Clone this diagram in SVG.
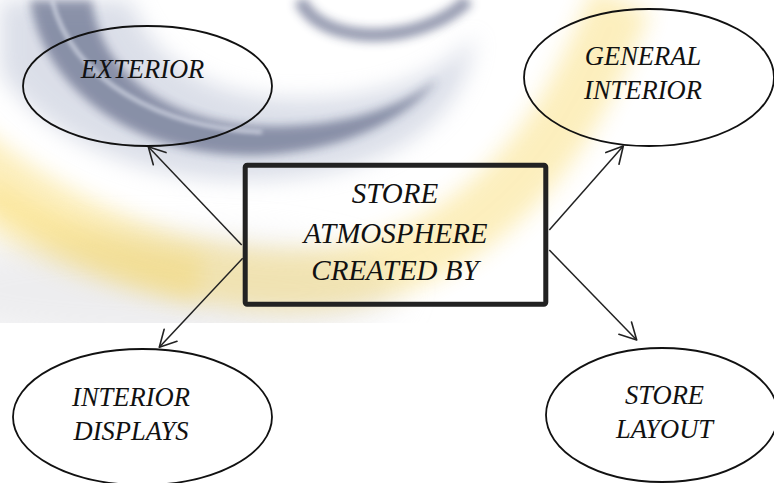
<svg xmlns="http://www.w3.org/2000/svg" width="774" height="483" viewBox="0 0 774 483">
  <defs>
    <style>
      .lbl { font-family: "Liberation Serif", "Times New Roman", serif; font-style: italic; fill: #111; }
      .small { font-size: 26.5px; }
      .big { font-size: 29px; }
      .node { fill: none; stroke: #111; stroke-width: 1.8; }
      .conn { fill: none; stroke: #222; stroke-width: 1.5; marker-end: url(#arrow); }
    </style>
    <marker id="arrow" markerUnits="userSpaceOnUse" markerWidth="24" markerHeight="24" viewBox="-20 -12 24 24" refX="0" refY="0" orient="auto">
      <path d="M-16.5,-8.8 L0,0 L-16.5,8.8" fill="none" stroke="#222" stroke-width="1.6" stroke-linecap="round" stroke-linejoin="round"/>
    </marker>
    <filter id="blur20" x="-50%" y="-50%" width="200%" height="200%"><feGaussianBlur stdDeviation="18"/></filter>
    <filter id="blur12" x="-50%" y="-50%" width="200%" height="200%"><feGaussianBlur stdDeviation="11"/></filter>
    <filter id="blur5" x="-50%" y="-50%" width="200%" height="200%"><feGaussianBlur stdDeviation="5"/></filter>
    <filter id="blur2" x="-50%" y="-50%" width="200%" height="200%"><feGaussianBlur stdDeviation="2"/></filter>
    <filter id="soft" x="-10%" y="-10%" width="120%" height="120%"><feGaussianBlur stdDeviation="0.7"/></filter>
    <clipPath id="wmclip"><rect x="0" y="0" width="774" height="323"/></clipPath>
  </defs>

  <rect x="0" y="0" width="774" height="483" fill="#ffffff"/>

  <g id="watermark" clip-path="url(#wmclip)">
    <ellipse cx="150" cy="290" rx="250" ry="55" fill="#dcdce0" opacity="0.5" filter="url(#blur20)"/>
    <path d="M0,0 L130,0 C160,80 240,105 330,98 C400,92 450,68 475,35 C465,125 385,175 260,180 C130,185 30,125 0,70 Z" fill="#b8bfd3" opacity="0.5" filter="url(#blur12)"/>
    <path d="M30,0 C45,100 150,160 262,155 C352,150 412,115 438,78 C400,110 335,128 262,126 C172,123 100,75 92,0 Z" fill="#27305a" opacity="0.45" filter="url(#blur5)"/>
    <path d="M52,0 C72,80 160,128 262,132" fill="none" stroke="#e3e7f2" stroke-width="4" opacity="0.7" filter="url(#blur2)"/>
    <path d="M300,0 C315,32 362,40 404,32 C436,25 456,12 468,0" fill="none" stroke="#2a3560" stroke-width="13" opacity="0.5" filter="url(#blur5)"/>
    <path d="M-40,150 C60,235 200,292 330,278 C440,265 520,192 568,112 C592,72 608,32 622,0" fill="none" stroke="#f7cd35" stroke-width="62" opacity="0.32" filter="url(#blur12)"/>
    <path d="M-20,200 C40,240 120,270 200,280" fill="none" stroke="#f7cd35" stroke-width="50" opacity="0.22" filter="url(#blur12)"/>
  </g>

  <g id="connectors">
    <line class="conn" x1="241.7" y1="245" x2="148.3" y2="146.7"/>
    <line class="conn" x1="549.3" y1="230" x2="623.3" y2="146"/>
    <line class="conn" x1="242.7" y1="258.3" x2="159.3" y2="347.3"/>
    <line class="conn" x1="549.3" y1="250" x2="636.7" y2="340"/>
  </g>

  <g id="center">
    <rect x="245.2" y="165.2" width="300.6" height="139" rx="2" fill="none" stroke="#202020" stroke-width="5" filter="url(#soft)"/>
    <text class="lbl big" x="395" y="203.3" text-anchor="middle">STORE</text>
    <text class="lbl big" x="395.5" y="242.7" text-anchor="middle">ATMOSPHERE</text>
    <text class="lbl big" x="395" y="280" text-anchor="middle">CREATED BY</text>
  </g>

  <g id="exterior">
    <ellipse class="node" cx="147.5" cy="86" rx="124.5" ry="60"/>
    <text class="lbl small" x="142.5" y="78.3" text-anchor="middle">EXTERIOR</text>
  </g>

  <g id="general-interior">
    <ellipse class="node" cx="649" cy="77.5" rx="125" ry="68.5"/>
    <text class="lbl small" x="643" y="65" text-anchor="middle">GENERAL</text>
    <text class="lbl small" x="643" y="99.3" text-anchor="middle">INTERIOR</text>
  </g>

  <g id="interior-displays">
    <ellipse class="node" cx="142.5" cy="417" rx="129.5" ry="68"/>
    <text class="lbl small" x="131" y="406" text-anchor="middle">INTERIOR</text>
    <text class="lbl small" x="131" y="440" text-anchor="middle">DISPLAYS</text>
  </g>

  <g id="store-layout">
    <ellipse class="node" cx="662" cy="415" rx="116" ry="67"/>
    <text class="lbl small" x="664.5" y="404" text-anchor="middle">STORE</text>
    <text class="lbl small" x="664.5" y="438" text-anchor="middle">LAYOUT</text>
  </g>
</svg>
